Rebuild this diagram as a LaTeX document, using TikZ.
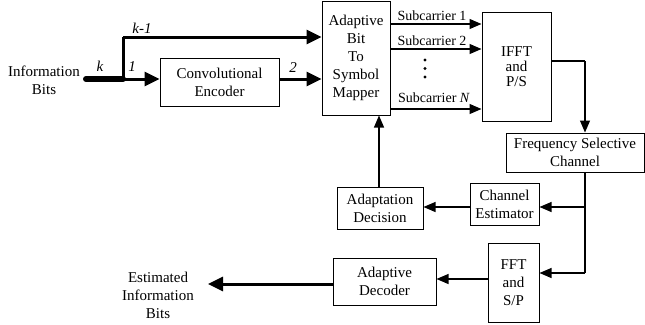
\documentclass[tikz,border=0pt]{standalone}
\usepackage{fontspec}
\setmainfont{Liberation Serif}
\usetikzlibrary{arrows.meta}
\begin{document}
\begin{tikzpicture}[x=1pt,y=-1pt,
 box/.style={draw,line width=1pt,inner sep=0pt,align=center,font=\fontsize{15}{18}\selectfont},
 lbl/.style={inner sep=0pt,align=center,font=\fontsize{15}{18}\selectfont},
 sub/.style={inner sep=0pt,font=\fontsize{14}{16}\selectfont},
 ital/.style={inner sep=0pt,font=\fontsize{15}{18}\selectfont\itshape},
 thinarrow/.style={line width=1.1pt,-{Triangle[length=12pt,width=10pt]}},
 thickarrow/.style={line width=3pt,-{Triangle[length=15pt,width=14pt]}},
 thinline/.style={line width=1.1pt}]
\useasboundingbox (0,0) rectangle (645,324);

% boxes
\node[box,minimum width=119pt,minimum height=48pt] (enc) at (219.5,82) {Convolutional\\Encoder};
\node[box,minimum width=68pt,minimum height=114pt] (map) at (356,58) {Adaptive\\Bit\\To\\Symbol\\Mapper};
\node[box,minimum width=69pt,minimum height=109pt,font=\fontsize{15}{15}\selectfont] (ifft) at (516.5,66.5) {IFFT\\and\\P/S};
\node[box,minimum width=138pt,minimum height=39pt] (fsc) at (575,152.5) {Frequency Selective\\Channel};
\node[box,minimum width=69pt,minimum height=42pt] (est) at (504.5,204) {Channel\\Estimator};
\node[box,minimum width=86pt,minimum height=42pt] (adp) at (380,208) {Adaptation\\Decision};
\node[box,minimum width=51pt,minimum height=79pt] (fft) at (513.5,282.5) {FFT\\and\\S/P};
\node[box,minimum width=103pt,minimum height=47pt] (dec) at (384.5,281.5) {Adaptive\\Decoder};

% text
\node[lbl] (inb) at (44,80) {Information\\Bits};
\node[lbl] (outb) at (158,295) {Estimated\\Information\\Bits};

% input
\coordinate (start) at (86,79);
\coordinate (jn) at (123,79);
\coordinate (up) at (123,37);
\draw[line width=6pt,line cap=round] (start) -- (jn);
\draw[line width=3pt] (jn) -- (up);
\draw[thickarrow] (up) -- (map.west |- up);
\draw[thickarrow] (jn) -- (enc.west |- jn);
\draw[thickarrow] (enc.east |- jn) -- (map.west |- jn);
\node[ital] (lk) at (100,66) {k};
\node[ital] (lk1) at (142,28) {k-1};
\node[ital] (l1) at (132,67) {1};
\node[ital] (l2) at (293,68) {2};

% subcarriers
\coordinate (s1) at (390,24);
\coordinate (s2) at (390,49);
\coordinate (sn) at (390,109);
\draw[thinarrow] (s1) -- (ifft.west |- s1);
\draw[thinarrow] (s2) -- (ifft.west |- s2);
\draw[thinarrow] (sn) -- (ifft.west |- sn);
\node[sub] (t1) at (432,16) {Subcarrier 1};
\node[sub] (t2) at (432,41) {Subcarrier 2};
\node[sub] (tn) at (434,98) {Subcarrier \textit{N}};
\fill (425,60) circle (1.6pt) (425,68.5) circle (1.6pt) (425,77) circle (1.6pt);

% to channel
\coordinate (c1) at (585,61);
\draw[thinline] (ifft.east |- c1) -- (c1);
\draw[thinarrow] (c1) -- (c1 |- fsc.north);

% receiver side
\coordinate (b1) at (585,207);
\coordinate (b2) at (585,273);
\draw[thinline] (b1 |- fsc.south) -- (b2);
\draw[thinarrow] (b1) -- (est.east |- b1);
\draw[thinarrow] (b2) -- (fft.east |- b2);
\draw[thinarrow] (est.west |- b1) -- (adp.east |- b1);
\draw[thinarrow] (adp.north -| 379,0) -- (map.south -| 379,0);
\coordinate (d1) at (488,279);
\draw[thinarrow] (fft.west |- d1) -- (dec.east |- d1);
\coordinate (o1) at (333,284);
\draw[thickarrow] (dec.west |- o1) -- (208,284) coordinate (o2);
\end{tikzpicture}
\end{document}
